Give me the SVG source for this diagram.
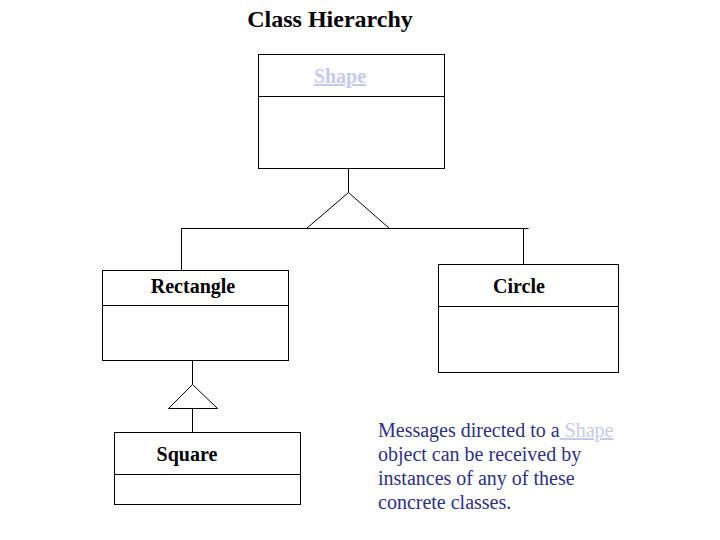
<svg xmlns="http://www.w3.org/2000/svg" width="720" height="540" viewBox="0 0 720 540">
<style>
.box{fill:#fff;stroke:#000;stroke-width:1}
.ln{fill:none;stroke:#000;stroke-width:1}
.lbl{font-family:"Liberation Serif","Times New Roman",serif;font-weight:bold;font-size:20px;fill:#000;text-anchor:middle}
.link{fill:#c8c8ec;text-decoration:underline}
.note{font-family:"Liberation Serif","Times New Roman",serif;font-size:20px;fill:#2f2f85}
</style>
<rect width="720" height="540" fill="#fff"/>
<text x="330" y="27" font-family="Liberation Serif, Times New Roman, serif" font-weight="bold" font-size="24" text-anchor="middle">Class Hierarchy</text>
<g id="connectors">
<path class="ln" d="M348.5 168V192.5M306.5 228.5L348.5 192.5L389.5 228.5M181.5 228.5H528.5M181.5 228.5V270M523.5 228.5V264"/>
<path class="ln" d="M192.5 360V384.5M168.5 408.5L192.5 384.5L217.5 408.5ZM192.5 408.5V432"/>
</g>
<g id="shape">
<rect class="box" x="258.5" y="54.5" width="186" height="114"/>
<line class="ln" x1="258.5" y1="96.5" x2="444.5" y2="96.5"/>
<text class="lbl link" x="340" y="83">Shape</text>
</g>
<g id="rectangle">
<rect class="box" x="102.5" y="270.5" width="186" height="90"/>
<line class="ln" x1="102.5" y1="305.5" x2="288.5" y2="305.5"/>
<text class="lbl" x="193" y="293">Rectangle</text>
</g>
<g id="circle">
<rect class="box" x="438.5" y="264.5" width="180" height="108"/>
<line class="ln" x1="438.5" y1="306.5" x2="618.5" y2="306.5"/>
<text class="lbl" x="519" y="293">Circle</text>
</g>
<g id="square">
<rect class="box" x="114.5" y="432.5" width="186" height="72"/>
<line class="ln" x1="114.5" y1="474.5" x2="300.5" y2="474.5"/>
<text class="lbl" x="187" y="461">Square</text>
</g>
<g id="note" class="note">
<text x="378" y="437">Messages directed to a<tspan fill="#c8c8ec" text-decoration="underline" xml:space="preserve"> Shape</tspan></text>
<text x="378" y="461">object can be received by</text>
<text x="378" y="485">instances of any of these</text>
<text x="378" y="509">concrete classes.</text>
</g>
</svg>
